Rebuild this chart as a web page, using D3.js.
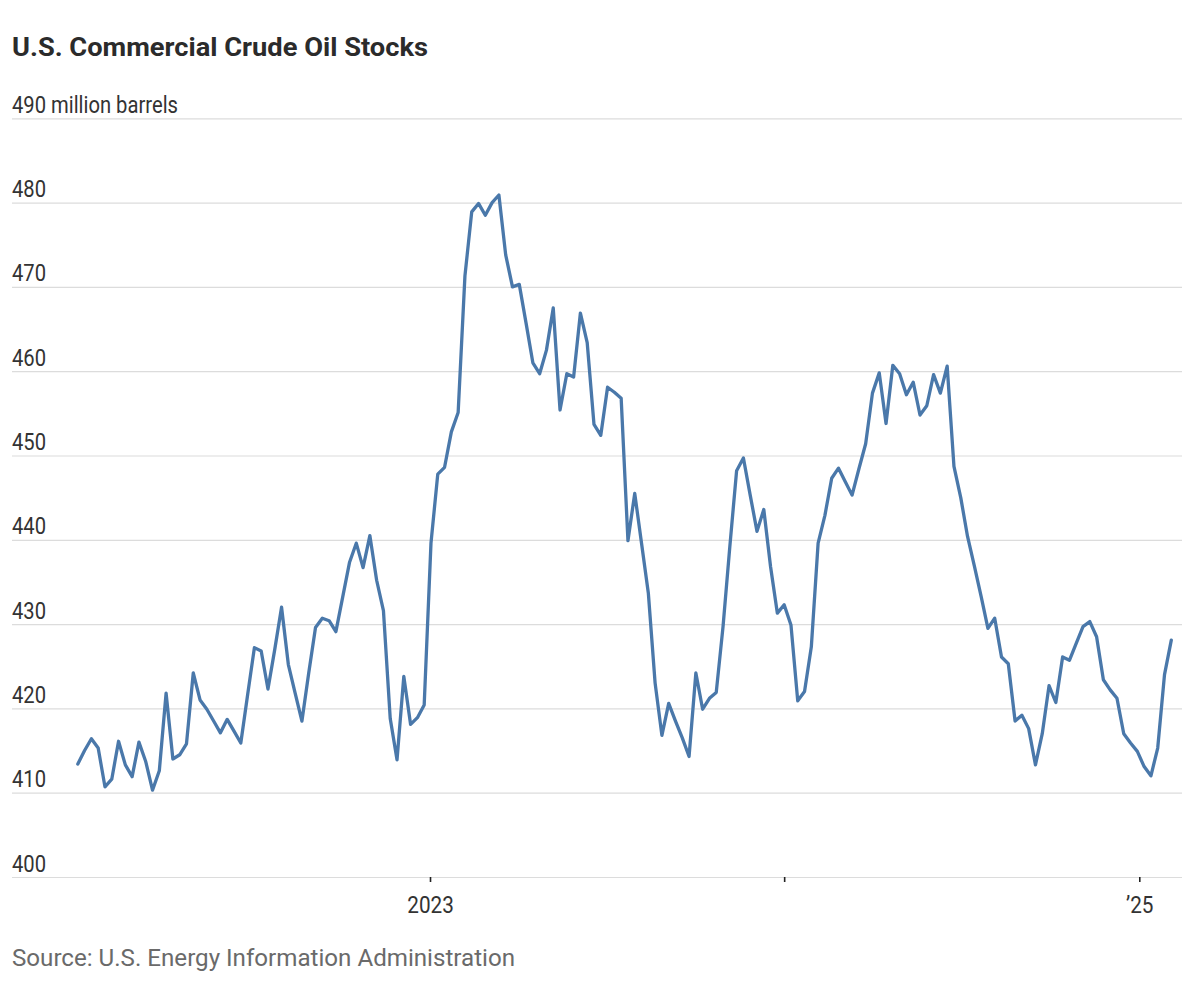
<!DOCTYPE html>
<html>
<head>
<meta charset="utf-8">
<script src="https://cdn.jsdelivr.net/npm/d3@7"></script>
<style>
  body { margin: 0; background: #fff; }
  text { font-family: Roboto, "Noto Sans", "DejaVu Sans", sans-serif; }
</style>
</head>
<body>
<div id="chart"></div>
<script>
// ---------------- data ----------------
const titleText = "U.S. Commercial Crude Oil Stocks";
const unitLabel = "million barrels";
const sourceText = "Source: U.S. Energy Information Administration";

// weekly observations, week starting Monday
const firstWeek = "2022-01-03";
const lastWeek = "2025-02-03";

// U.S. commercial crude oil stocks, million barrels
const stocks = [
  413.4, 415.0, 416.4, 415.3, 410.7, 411.6, 416.1, 413.3, 411.9, 416.0,
  413.7, 410.3, 412.6, 421.8, 414.0, 414.5, 415.8, 424.2, 421.0, 419.9,
  418.5, 417.1, 418.7, 417.3, 415.9, 421.6, 427.2, 426.8, 422.3, 427.0,
  432.0, 425.2, 421.8, 418.5, 424.2, 429.6, 430.7, 430.4, 429.1, 433.2,
  437.3, 439.6, 436.7, 440.5, 435.2, 431.6, 418.8, 413.9, 423.8, 418.1,
  418.9, 420.4, 439.6, 447.8, 448.6, 452.8, 455.1, 471.3, 478.9, 479.9,
  478.5, 480.0, 480.9, 473.8, 470.0, 470.3, 465.7, 461.0, 459.7, 462.5,
  467.5, 455.4, 459.7, 459.3, 466.9, 463.4, 453.7, 452.4, 458.1, 457.5,
  456.8, 439.9, 445.5, 439.6, 433.7, 423.0, 416.8, 420.6, 418.5, 416.5,
  414.3, 424.2, 419.9, 421.2, 421.9, 429.7, 439.2, 448.2, 449.7, 445.3,
  441.0, 443.6, 436.8, 431.3, 432.3, 429.9, 420.9, 422.0, 427.3, 439.6,
  442.9, 447.3, 448.5, 446.9, 445.3, 448.4, 451.4, 457.4, 459.8, 453.8,
  460.7, 459.7, 457.2, 458.7, 454.8, 455.9, 459.6, 457.4, 460.6, 448.7,
  445.0, 440.4, 436.9, 433.3, 429.5, 430.7, 426.1, 425.3, 418.5, 419.2,
  417.6, 413.3, 417.0, 422.7, 420.7, 426.1, 425.7, 427.7, 429.7, 430.3,
  428.5, 423.4, 422.2, 421.2, 417.0, 415.9, 414.9, 413.1, 412.0, 415.3,
  424.0, 428.1
];

const yTicks = [400, 410, 420, 430, 440, 450, 460, 470, 480, 490];
const xTickDates = ["2023-01-01", "2024-01-01", "2025-01-01"];
const xTickLabels = ["2023", "", "\u201925"];

// ---------------- layout ----------------
const W = 1200, H = 1000;
const left = 12, right = 1182;
const plotX0 = 77.8, plotX1 = 1171.3;
const yBottom = 877, yTop = 118.3;
const lineColor = "#4a78aa";
const gridColor = "#dcdcdc";
const textColor = "#333333";

const parse = d3.timeParse("%Y-%m-%d");
const weeks = d3.timeMonday.range(parse(firstWeek), d3.timeDay.offset(parse(lastWeek), 1));
const data = stocks.map((v, i) => ({ date: weeks[i], value: v }));

const x = d3.scaleTime()
  .domain([parse(firstWeek), parse(lastWeek)])
  .range([plotX0, plotX1]);
const y = d3.scaleLinear()
  .domain([400, 490])
  .range([yBottom, yTop]);

const svg = d3.select("#chart").append("svg")
  .attr("width", W).attr("height", H)
  .style("background", "#fff");

// fit text to a target width (emulates the narrow house font)
function fitWidth(sel, w) {
  sel.each(function (d, i) {
    const target = typeof w === "function" ? w.call(this, d, i) : w;
    if (target) {
      this.setAttribute("textLength", target);
      this.setAttribute("lengthAdjust", "spacingAndGlyphs");
    }
  });
}
function condense(sel, k) {
  sel.each(function () {
    const L = this.getComputedTextLength();
    this.setAttribute("textLength", L * k);
    this.setAttribute("lengthAdjust", "spacingAndGlyphs");
  });
}

// title
svg.append("text")
  .attr("x", 12).attr("y", 56)
  .attr("font-size", 25).attr("font-weight", 700)
  .attr("fill", "#2b2b2b")
  .text(titleText)
  .call(fitWidth, 416);

// y grid + labels
const yAxis = d3.axisRight(y)
  .tickValues(yTicks)
  .tickSize(right - left)
  .tickFormat(d => d === 490 ? `${d} ${unitLabel}` : `${d}`);

const gy = svg.append("g")
  .attr("transform", `translate(${left},0)`)
  .call(yAxis);
gy.select(".domain").remove();
gy.selectAll(".tick line")
  .attr("stroke", gridColor).attr("stroke-width", 1.2);
gy.selectAll(".tick text")
  .attr("x", 0).attr("dy", 0).attr("y", -6)
  .attr("text-anchor", "start")
  .attr("font-size", 23)
  .attr("fill", textColor)
  .style("font-family", "Roboto, 'Noto Sans', sans-serif")
  .call(fitWidth, d => d === 490 ? 166 : 34);

// x axis ticks
const xAxis = d3.axisBottom(x)
  .tickValues(xTickDates.map(parse))
  .tickSize(5)
  .tickFormat((d, i) => xTickLabels[i]);

const gx = svg.append("g")
  .attr("transform", `translate(0,${yBottom})`)
  .call(xAxis);
gx.select(".domain").remove();
gx.selectAll(".tick line")
  .attr("stroke", "#222").attr("stroke-width", 1.6);
gx.selectAll(".tick text")
  .attr("y", 36).attr("dy", 0)
  .attr("font-size", 23)
  .attr("fill", textColor)
  .style("font-family", "Roboto, 'Noto Sans', sans-serif")
  .call(condense, 0.9);

// line
const line = d3.line()
  .x(d => x(d.date))
  .y(d => y(d.value));

svg.append("path")
  .datum(data)
  .attr("fill", "none")
  .attr("stroke", lineColor)
  .attr("stroke-width", 3.3)
  .attr("stroke-linejoin", "round")
  .attr("stroke-linecap", "round")
  .attr("d", line);

// source
svg.append("text")
  .attr("x", 12).attr("y", 966)
  .attr("font-size", 24)
  .attr("fill", "#6a6a6a")
  .text(sourceText)
  .call(fitWidth, 503);
</script>
</body>
</html>
